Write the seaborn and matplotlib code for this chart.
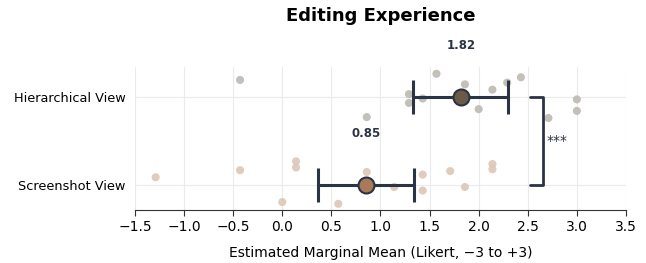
import numpy as np
import pandas as pd
import seaborn as sns
import matplotlib.pyplot as plt

# condition labels (bottom to top)
conditions = ['Screenshot View', 'Hierarchical View']

# per-participant scores
scores_screenshot = [-1.29, -0.43, 0.14, 0.14, 0.0, 0.57, 0.86, 1.43, 1.43, 1.14, 1.71, 1.86, 2.14, 2.14]
jitter_screenshot = [0.09, 0.17, 0.27, 0.20, -0.19, -0.21, 0.15, 0.12, -0.06, -0.02, 0.16, -0.02, 0.24, 0.18]
scores_hierarchical = [-0.43, 0.86, 1.57, 1.29, 1.29, 1.43, 1.86, 2.14, 2.29, 2.43, 2.0, 2.71, 3.0, 3.0]
jitter_hierarchical = [0.19, -0.23, 0.26, 0.03, -0.07, -0.02, 0.14, 0.08, 0.16, 0.22, -0.14, -0.24, -0.03, -0.16]

# estimated marginal means and 95% CI
emm = [0.85, 1.82]
ci_low = [0.36, 1.33]
ci_high = [1.34, 2.30]
sig_label = '***'

dark = '#2b3445'
dot_colors = ['#dcc7b8', '#bdb9b3']
mean_colors = ['#a97a5a', '#6b5a47']

df = pd.DataFrame({
    'score': scores_screenshot + scores_hierarchical,
    'pos': [0 + j for j in jitter_screenshot] + [1 + j for j in jitter_hierarchical],
    'condition': [conditions[0]] * len(scores_screenshot) + [conditions[1]] * len(scores_hierarchical),
})

sns.set_style('whitegrid')
plt.rcParams['text.color'] = 'black'
plt.rcParams['xtick.color'] = 'black'
plt.rcParams['ytick.color'] = 'black'
plt.rcParams['axes.labelcolor'] = 'black'

fig = plt.figure(figsize=(6.46, 2.63), dpi=100)
ax = fig.add_axes([0.209, 0.2015, 0.76, 0.545])

sns.scatterplot(data=df, x='score', y='pos', hue='condition', palette=dict(zip(conditions, dot_colors)),
                s=34, edgecolor='none', alpha=0.9, legend=False, ax=ax, zorder=2)

for i in range(2):
    ax.errorbar(emm[i], i, xerr=[[emm[i] - ci_low[i]], [ci_high[i] - emm[i]]], fmt='none',
                ecolor=dark, elinewidth=2.2, capsize=12, capthick=2.2, zorder=3)
    ax.plot(emm[i], i, 'o', ms=11.5, mfc=mean_colors[i], mec=dark, mew=1.5, zorder=4)
    ax.text(emm[i], i + 0.58, f'{emm[i]:.2f}', ha='center', va='center', fontsize=8.5,
            fontweight='bold', color=dark, clip_on=False)

# significance bracket
ax.plot([2.52, 2.66, 2.66, 2.52], [1, 1, 0, 0], color=dark, lw=2, clip_on=False, zorder=3)
ax.text(2.69, 0.5, sig_label, ha='left', va='center', fontsize=10, color=dark)

ax.set_xlim(-1.5, 3.5)
ax.set_ylim(-0.28, 1.34)
ax.set_xticks(np.arange(-1.5, 3.51, 0.5))
ax.set_yticks([0, 1])
ax.set_yticklabels(conditions)
ax.set_ylabel('')
ax.set_xlabel('Estimated Marginal Mean (Likert, \u22123 to +3)', fontsize=10, labelpad=8)
ax.tick_params(axis='x', labelsize=10, bottom=True, length=4, color='#333333')
ax.tick_params(axis='y', labelsize=9.3, left=False)
ax.grid(color='#ebebeb', lw=0.8)
for side in ['top', 'right', 'left']:
    ax.spines[side].set_visible(False)
ax.spines['bottom'].set_color('#333333')
ax.spines['bottom'].set_linewidth(0.8)

fig.suptitle('Editing Experience', fontsize=13, fontweight='bold', x=0.589, y=0.975)

fig.savefig('out.png', dpi=100)
